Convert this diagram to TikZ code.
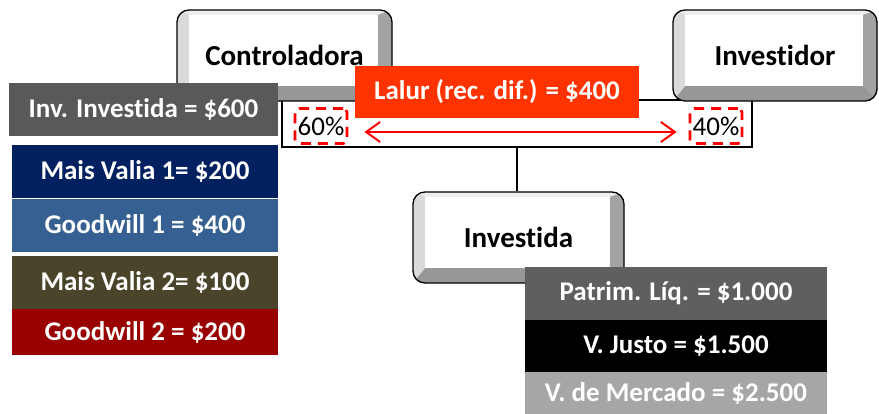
\documentclass[tikz,border=0pt]{standalone}
\usepackage{fontspec}
\setmainfont[Ligatures=NoCommon]{Carlito}
\usetikzlibrary{calc,arrows.meta}
\definecolor{bevL}{HTML}{DADADA}
\definecolor{bevR}{HTML}{A3A3A3}
\definecolor{bevB}{HTML}{979797}
\definecolor{bevT}{HTML}{EEEEEE}
\definecolor{cInv}{HTML}{595959}
\definecolor{cMV1}{HTML}{002060}
\definecolor{cGW1}{HTML}{376092}
\definecolor{cMV2}{HTML}{4A452A}
\definecolor{cGW2}{HTML}{990000}
\definecolor{cLalur}{HTML}{FF3300}
\definecolor{cPL}{HTML}{5F5F5F}
\definecolor{cVM}{HTML}{A6A6A6}
\definecolor{cRed}{HTML}{FF0000}
\begin{document}
\begin{tikzpicture}[x=1pt,y=-1pt,
  button/.style={draw=black, line width=1.3pt, rounded corners=12pt, fill=bevB,
    inner sep=0pt, font=\bfseries\fontsize{29}{34}\selectfont,
    path picture={
      \fill[bevT,sharp corners] let \p1=(path picture bounding box.north west), \p2=(path picture bounding box.south east) in
        (\x1,\y1) -- (\x2,\y1) -- (\x2-14pt,\y1-5pt) -- (\x1+12pt,\y1-5pt) -- cycle;
      \fill[bevL,sharp corners] let \p1=(path picture bounding box.north west), \p2=(path picture bounding box.south east) in
        (\x1,\y1) -- (\x1+12pt,\y1-5pt) -- (\x1+12pt,\y2+15pt) -- (\x1,\y2) -- cycle;
      \fill[bevR,sharp corners] let \p1=(path picture bounding box.north west), \p2=(path picture bounding box.south east) in
        (\x2,\y1) -- (\x2-14pt,\y1-5pt) -- (\x2-14pt,\y2+15pt) -- (\x2,\y2) -- cycle;
      \fill[white,sharp corners] let \p1=(path picture bounding box.north west), \p2=(path picture bounding box.south east) in
        (\x1+12pt,\y1-5pt) rectangle (\x2-14pt,\y2+15pt);
    }},
  cbox/.style={fill=#1, text=white, inner sep=0pt, font=\bfseries\fontsize{27}{31}\selectfont},
  pct/.style={draw=cRed, line width=2.8pt, dash pattern=on 10pt off 7pt, rounded corners=4pt,
    minimum width=52pt, minimum height=35pt, inner sep=0pt, text=black, font=\fontsize{27}{31}\selectfont},
  redarrow/.style={draw=cRed, line width=2pt, {Straight Barb[length=14pt,width=20pt]}-{Straight Barb[length=14pt,width=20pt]}},
  link/.style={draw=black, line width=2pt}
]
\useasboundingbox (0,0) rectangle (879,414);

% bar
\node[draw=black, line width=2pt, fill=white, minimum width=470pt, minimum height=47pt, inner sep=0pt] (bar) at (517,123.5) {};

% buttons
\node[button, minimum width=215pt, minimum height=91pt] (contr) at (284.5,55.5) {Controladora};
\node[button, minimum width=204pt, minimum height=91pt] (invr) at (775,55.5) {Investidor};
\node[button, minimum width=211pt, minimum height=91pt] (invd) at (518.5,237.5) {Investida};

\draw[link] (bar.south) -- (bar.south |- invd.north);

% Lalur
\node[cbox=cLalur, minimum width=284pt, minimum height=52pt] (lalur) at (497,92) {Lalur (rec. dif.) = \$400};

% percents
\node[pct] (p60) at (321,126) {60\%};
\node[pct] (p40) at (716,126) {40\%};
\draw[redarrow] ([xshift=16pt,yshift=-6pt]p60.east) -- ([xshift=-12pt,yshift=-6pt]p40.west);

% left stack
\node[cbox=cInv, minimum width=269pt, minimum height=53pt] (inv) at (143.5,109.5) {Inv. Investida = \$600};
\node[cbox=cMV1, minimum width=266pt, minimum height=53pt] (mv1) at (145,171.5) {Mais Valia 1= \$200};
\node[cbox=cGW1, minimum width=266pt, minimum height=53pt] (gw1) at (145,225.5) {Goodwill 1 = \$400};
\node[cbox=cMV2, minimum width=266pt, minimum height=53pt] (mv2) at (145,282.5) {Mais Valia 2= \$100};
\node[cbox=cGW2, minimum width=266pt, minimum height=46pt] (gw2) at (145,332) {Goodwill 2 = \$200};

% right stack
\node[cbox=cPL, minimum width=302pt, minimum height=53pt] (pl) at (676,293.5) {Patrim. Líq. = \$1.000};
\node[cbox=black, minimum width=302pt, minimum height=52pt] (vj) at (676,346) {V. Justo = \$1.500};
\node[cbox=cVM, minimum width=302pt, minimum height=42pt] (vm) at (676,393) {V. de Mercado = \$2.500};
\end{tikzpicture}
\end{document}
